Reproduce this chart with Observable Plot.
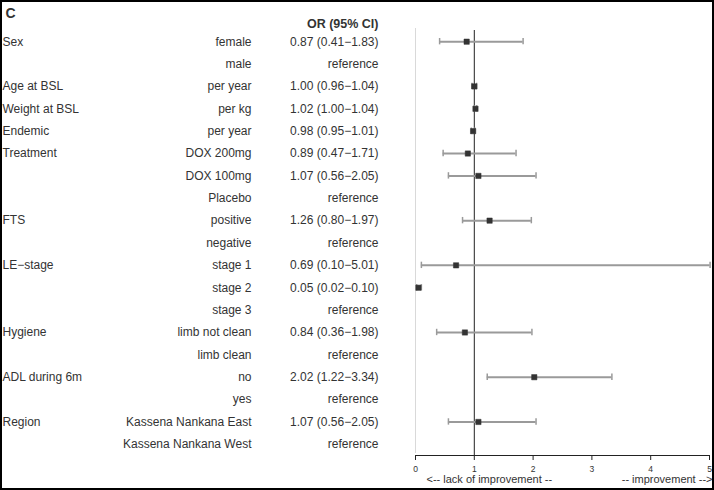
<!DOCTYPE html>
<html>
<head>
<meta charset="utf-8">
<script src="https://cdn.jsdelivr.net/npm/d3@7"></script>
<script src="https://cdn.jsdelivr.net/npm/@observablehq/plot@0.6"></script>
<style>
  html, body { margin: 0; padding: 0; background: #fff; }
  #chart svg { display: block; outline: 2px solid #000; outline-offset: -2px; }
</style>
</head>
<body>
<div id="chart"></div>
<script>
const variables = ["Sex","","Age at BSL","Weight at BSL","Endemic","Treatment","","","FTS","","LE\u2212stage","","","Hygiene","","ADL during 6m","","Region",""];
const levels = ["female","male","per year","per kg","per year","DOX 200mg","DOX 100mg","Placebo","positive","negative","stage 1","stage 2","stage 3","limb not clean","limb clean","no","yes","Kassena Nankana East","Kassena Nankana West"];
const oddsRatio = [0.87,null,1.00,1.02,0.98,0.89,1.07,null,1.26,null,0.69,0.05,null,0.84,null,2.02,null,1.07,null];
const ciLow  = [0.41,null,0.96,1.00,0.95,0.47,0.56,null,0.80,null,0.10,0.02,null,0.36,null,1.22,null,0.56,null];
const ciHigh = [1.83,null,1.04,1.04,1.01,1.71,2.05,null,1.97,null,5.01,0.10,null,1.98,null,3.34,null,2.05,null];
const xTicks = [0,1,2,3,4,5];
const panelLabel = "C";
const headerLabel = "OR (95% CI)";
const leftNote = "<-- lack of improvement --";
const rightNote = "-- improvement -->";

const f2 = d3.format(".2f");
const rows = levels.map((lv, i) => ({
  i, variable: variables[i], level: lv, or: oddsRatio[i], lo: ciLow[i], hi: ciHigh[i],
  label: oddsRatio[i] == null ? "reference" : `${f2(oddsRatio[i])} (${f2(ciLow[i])}\u2212${f2(ciHigh[i])})`
}));
const est = rows.filter(d => d.or != null);
const caps = est.flatMap(d => [{i: d.i, x: d.lo}, {i: d.i, x: d.hi}]);

const textColor = "#333";
const chart = Plot.plot({
  width: 714,
  height: 490,
  marginLeft: 415,
  marginRight: 5,
  marginTop: 30,
  marginBottom: 35,
  style: {fontFamily: "'Liberation Sans', Arial, Helvetica, sans-serif", fontSize: "12px", color: textColor, background: "#fff"},
  x: {domain: [0, 5], label: null},
  y: {type: "band", domain: d3.range(levels.length), padding: 0, round: false, axis: null},
  marks: [
    Plot.ruleX([0], {stroke: "#d9d9d9", strokeWidth: 1, insetTop: -2, insetBottom: 2}),
    Plot.ruleX([1], {stroke: "#222", strokeWidth: 1}),
    Plot.ruleY(est, {y: "i", x1: "lo", x2: "hi", stroke: "#9a9a9a", strokeWidth: 2}),
    Plot.tickX(caps, {y: "i", x: "x", stroke: "#9a9a9a", strokeWidth: 1.5, insetTop: 8, insetBottom: 8}),
    Plot.dot(est, {y: "i", x: "or", symbol: "square", r: 3, fill: "#333", stroke: "#333", strokeWidth: 0.5}),
    Plot.text(rows, {y: "i", text: "variable", frameAnchor: "left", textAnchor: "start", dx: -413, fill: textColor, fontSize: 12}),
    Plot.text(rows, {y: "i", text: "level", frameAnchor: "left", textAnchor: "end", dx: -164, fill: textColor, fontSize: 12}),
    Plot.text(rows, {y: "i", text: "label", frameAnchor: "left", textAnchor: "end", dx: -37, fill: textColor, fontSize: 12}),
    Plot.text([headerLabel], {text: d => d, frameAnchor: "top-left", textAnchor: "end", dx: -37, dy: -11, fontWeight: "bold", fontSize: 12.5, fill: textColor}),
    Plot.text([panelLabel], {text: d => d, frameAnchor: "top-left", textAnchor: "start", dx: -410, dy: -22, fontWeight: "bold", fontSize: 14, fill: textColor}),
    Plot.text([leftNote], {text: d => d, frameAnchor: "bottom-left", textAnchor: "start", dx: 11, dy: 27, fontSize: 11, fill: textColor}),
    Plot.text([rightNote], {text: d => d, frameAnchor: "bottom-right", textAnchor: "end", dx: 3, dy: 27, fontSize: 11, fill: textColor}),
    Plot.frame({anchor: "bottom", stroke: "#222"}),
    Plot.axisX({ticks: xTicks, tickFormat: d3.format("d"), tickSize: 5, tickPadding: 5, fontSize: 8.5, stroke: "#222", color: textColor, label: null})
  ]
});
document.getElementById("chart").appendChild(chart);
</script>
</body>
</html>
